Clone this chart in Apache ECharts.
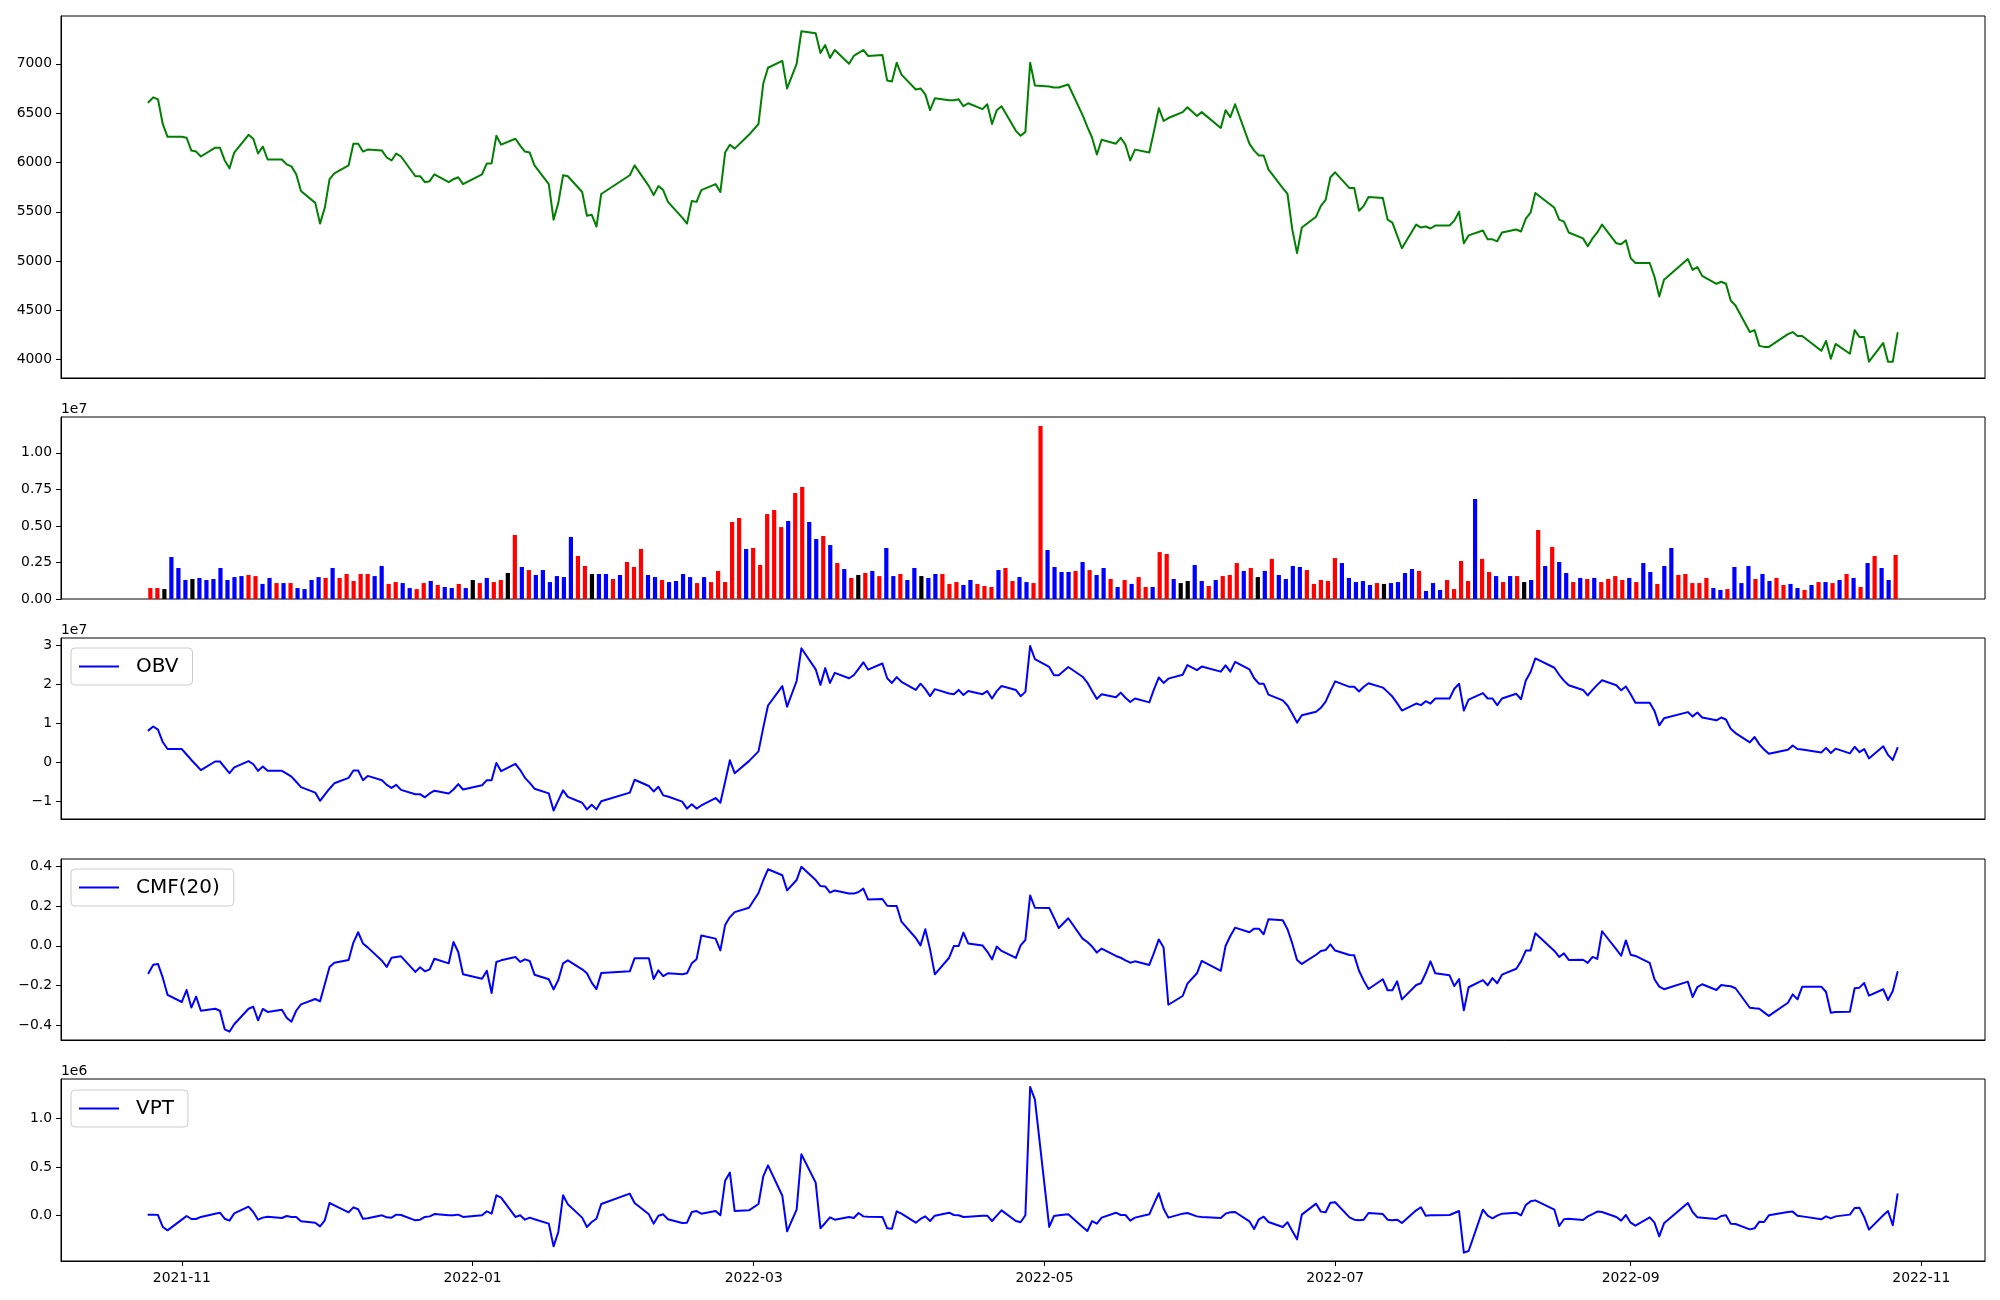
<!DOCTYPE html>
<html><head><meta charset="utf-8">
<script src="https://cdn.jsdelivr.net/npm/echarts@6/dist/echarts.min.js"></script>
<style>html,body{margin:0;padding:0;background:#fff}#c{width:2000px;height:1300px}</style>
</head><body><div id="c"></div>
<script>
const dates = [
'2021-10-25','2021-10-26','2021-10-27','2021-10-28','2021-10-29',
'2021-11-01','2021-11-02','2021-11-03','2021-11-04','2021-11-05','2021-11-08','2021-11-09','2021-11-10','2021-11-11','2021-11-12',
'2021-11-15','2021-11-16','2021-11-17','2021-11-18','2021-11-19','2021-11-22','2021-11-23','2021-11-24','2021-11-25','2021-11-26','2021-11-29','2021-11-30',
'2021-12-01','2021-12-02','2021-12-03','2021-12-06','2021-12-07','2021-12-08','2021-12-09','2021-12-10','2021-12-13','2021-12-14','2021-12-15',
'2021-12-16','2021-12-17','2021-12-20','2021-12-21','2021-12-22','2021-12-23','2021-12-24','2021-12-27','2021-12-28','2021-12-29','2021-12-30',
'2022-01-03','2022-01-04','2022-01-05','2022-01-06','2022-01-07','2022-01-10','2022-01-11','2022-01-12','2022-01-13','2022-01-14',
'2022-01-17','2022-01-18','2022-01-19','2022-01-20','2022-01-21','2022-01-24','2022-01-25','2022-01-26','2022-01-27','2022-01-28',
'2022-02-03','2022-02-04','2022-02-07','2022-02-08','2022-02-09','2022-02-10','2022-02-11','2022-02-14','2022-02-15','2022-02-16',
'2022-02-17','2022-02-18','2022-02-21','2022-02-22','2022-02-23','2022-02-24','2022-02-25','2022-02-28',
'2022-03-02','2022-03-03','2022-03-04','2022-03-07','2022-03-08','2022-03-10','2022-03-11','2022-03-14','2022-03-15','2022-03-16','2022-03-17',
'2022-03-18','2022-03-21','2022-03-22','2022-03-23','2022-03-24','2022-03-25','2022-03-28','2022-03-29','2022-03-30','2022-03-31',
'2022-04-01','2022-04-04','2022-04-05','2022-04-06','2022-04-07','2022-04-08','2022-04-11','2022-04-12','2022-04-13','2022-04-14','2022-04-15',
'2022-04-18','2022-04-19','2022-04-20','2022-04-21','2022-04-22','2022-04-25','2022-04-26','2022-04-27','2022-04-28','2022-04-29',
'2022-05-02','2022-05-03','2022-05-04','2022-05-06','2022-05-09','2022-05-10','2022-05-11','2022-05-12','2022-05-13','2022-05-16','2022-05-17',
'2022-05-18','2022-05-19','2022-05-20','2022-05-23','2022-05-24','2022-05-25','2022-05-26','2022-05-27','2022-05-30','2022-05-31',
'2022-06-02','2022-06-03','2022-06-07','2022-06-08','2022-06-09','2022-06-10','2022-06-13','2022-06-14','2022-06-15','2022-06-16',
'2022-06-17','2022-06-20','2022-06-21','2022-06-22','2022-06-23','2022-06-24','2022-06-27','2022-06-28','2022-06-29','2022-06-30',
'2022-07-01','2022-07-04','2022-07-05','2022-07-06','2022-07-07','2022-07-08','2022-07-11','2022-07-12','2022-07-13','2022-07-14','2022-07-15',
'2022-07-18','2022-07-19','2022-07-20','2022-07-21','2022-07-22','2022-07-25','2022-07-26','2022-07-27','2022-07-28','2022-07-29',
'2022-08-01','2022-08-02','2022-08-03','2022-08-04','2022-08-05','2022-08-08','2022-08-09','2022-08-10','2022-08-11','2022-08-12','2022-08-16',
'2022-08-17','2022-08-18','2022-08-19','2022-08-22','2022-08-23','2022-08-24','2022-08-25','2022-08-26','2022-08-29','2022-08-30','2022-08-31',
'2022-09-01','2022-09-02','2022-09-05','2022-09-06','2022-09-07','2022-09-08','2022-09-13','2022-09-14','2022-09-15','2022-09-16',
'2022-09-19','2022-09-20','2022-09-21','2022-09-22','2022-09-23','2022-09-26','2022-09-27','2022-09-28','2022-09-29','2022-09-30',
'2022-10-04','2022-10-05','2022-10-06','2022-10-07','2022-10-11','2022-10-12','2022-10-13','2022-10-14','2022-10-17',
'2022-10-18','2022-10-19','2022-10-20','2022-10-21','2022-10-24','2022-10-25','2022-10-26','2022-10-27'
];

const closePrice = [
6610,6660,6640,6390,6260,
6260,6250,6120,6110,6060,6150,6150,6020,5940,6100,6280,6240,6090,6160,6030,6030,5980,5960,5880,5710,5590,5380,
5540,5830,5890,5970,6190,6190,6110,6130,6120,6050,6020,6090,6060,5860,5860,5800,5810,5880,5800,5830,5850,5780,
5880,5990,5990,6270,6180,6240,6170,6110,6100,5970,5780,5420,5590,5870,5860,5700,5460,5470,5350,5680,
5870,5970,5760,5670,5760,5720,5600,5440,5380,5610,5600,5720,5780,5700,6100,6180,6140,6280,
6390,6800,6960,7030,6750,7000,7330,7310,7110,7190,7060,7140,7000,7080,7110,7140,7080,7090,6830,6820,7010,
6890,6740,6750,6690,6530,6650,6630,6630,6640,6570,6600,6540,6590,6390,6530,6570,6320,6270,6310,7010,6780,
6770,6760,6760,6790,6480,6360,6250,6080,6230,6190,6250,6180,6020,6130,6100,6320,6550,6420,6450,6510,6560,
6470,6510,6350,6530,6460,6590,6190,6120,6070,6070,5930,5740,5680,5320,5080,5340,5450,5560,5620,5850,
5900,5740,5740,5510,5560,5650,5640,5420,5390,5260,5130,5370,5340,5350,5330,5360,5360,5410,5500,5180,5260,
5310,5220,5220,5200,5290,5320,5300,5430,5490,5690,5540,5420,5400,5290,5230,5150,5230,5290,5370,5180,5170,5210,
5030,4980,4980,4840,4640,4810,5020,4910,4940,4850,4770,4790,4770,4600,4550,4280,4300,4140,4130,4130,
4260,4280,4240,4240,4090,4190,4010,4160,4060,4300,4230,4230,3980,4170,3980,3980,4270
];

// volume in millions of shares, one bar per trading day (drawn at evenly spaced positions)
const volumeM = [
0.75,0.75,0.68,2.87,2.12,1.30,1.37,1.44,1.30,1.37,
2.12,1.30,1.50,1.57,1.64,1.57,1.03,1.44,1.09,1.09,
1.09,0.75,0.68,1.30,1.50,1.44,2.12,1.44,1.71,1.23,
1.71,1.71,1.57,2.26,1.03,1.16,1.09,0.75,0.68,1.09,
1.23,0.96,0.82,0.75,1.03,0.75,1.30,1.09,1.44,1.16,
1.30,1.78,4.38,2.19,1.98,1.64,1.98,1.16,1.57,1.50,
4.24,2.94,2.26,1.71,1.71,1.71,1.37,1.64,2.53,2.19,
3.42,1.64,1.50,1.30,1.16,1.23,1.71,1.50,1.09,1.50,
1.16,1.92,1.16,5.27,5.54,3.42,3.49,2.33,5.81,6.09,
4.92,5.34,7.25,7.66,5.27,4.10,4.31,3.69,2.46,2.05,
1.44,1.64,1.78,1.92,1.57,3.49,1.57,1.71,1.30,2.12,
1.57,1.44,1.71,1.71,1.03,1.16,0.96,1.30,1.03,0.89,
0.82,1.98,2.12,1.23,1.50,1.16,1.09,11.83,3.35,2.19,
1.85,1.85,1.92,2.53,1.98,1.64,2.12,1.37,0.82,1.30,
1.03,1.50,0.82,0.82,3.21,3.08,1.37,1.09,1.23,2.33,
1.23,0.89,1.30,1.57,1.64,2.46,1.92,2.12,1.50,1.92,
2.74,1.64,1.37,2.26,2.19,1.98,1.03,1.30,1.23,2.80,
2.46,1.44,1.16,1.23,0.96,1.09,1.03,1.09,1.16,1.78,
2.05,1.92,0.55,1.09,0.62,1.30,0.68,2.60,1.23,6.84,
2.74,1.85,1.57,1.16,1.57,1.57,1.16,1.30,4.72,2.26,
3.56,2.53,1.78,1.16,1.44,1.37,1.44,1.16,1.37,1.57,
1.30,1.44,1.16,2.46,1.85,1.03,2.26,3.49,1.64,1.71,
1.09,1.09,1.44,0.75,0.62,0.68,2.19,1.09,2.26,1.37,
1.71,1.23,1.44,0.96,1.03,0.75,0.62,0.96,1.16,1.16,
1.09,1.30,1.71,1.44,0.82,2.46,2.94,2.12,1.30,3.01
];
// bar colour per day: r = up, b = down, k = unchanged
const volumeDir =
'rrkbbbkbbb'+'bbbbrrbbrb'+'rbbbbrbrrr'+'rrbbrrbbrr'+'brbbrbkrbr'+
'rkrbrbbbbb'+'brrkbbrbrr'+'rbbrbbbbrb'+'rrrrrbrrrr'+'rbrrbbrbrb'+
'rkrbrbbrbb'+'kbbrrrbbrr'+'rbrrbbrrbb'+'bbrbrbbrbr'+'brrbrrbkkb'+
'brbrrrbrkb'+'rbbbbrrrrr'+'bbbbbrkbbb'+'brbbbrrrrb'+'rrbrbrkbrb'+
'rbbrbrbrrr'+'rbrbbrbbrr'+'rrrbbrbbbr'+'bbrrbbrbrb'+'rbrbrbrbbr';

// On-Balance Volume, millions
const obvM = [
8.2,9.2,8.4,5.2,3.4,
3.4,2.0,0.6,-0.7,-2.0,0.2,0.2,-1.3,-2.8,-1.3,0.3,-0.5,-2.2,-1.1,-2.2,-2.2,-2.9,-3.7,-5.0,-6.4,-7.8,-9.9,
-8.3,-6.8,-5.4,-4.0,-2.1,-2.1,-4.6,-3.5,-4.6,-5.8,-6.6,-5.8,-7.1,-8.2,-8.2,-9.0,-8.0,-7.3,-8.0,-7.0,-5.6,-7.0,
-5.9,-4.6,-4.6,-0.2,-2.3,-0.4,-2.0,-4.0,-5.3,-6.8,-8.0,-12.4,-9.8,-7.2,-8.9,-10.4,-12.1,-10.9,-12.1,-10.0,
-7.8,-4.5,-6.1,-7.5,-6.3,-8.5,-8.8,-10.1,-11.9,-10.8,-11.9,-11.1,-9.2,-10.4,-5.0,0.5,-2.8,0.3,
2.8,8.9,14.6,19.6,14.3,20.9,29.3,23.9,19.9,24.2,20.4,23.0,21.6,22.4,24.0,25.7,23.8,25.4,21.6,20.4,21.9,
20.7,18.6,20.2,18.8,17.0,18.8,17.7,17.5,18.6,17.3,18.3,17.5,18.3,16.4,18.3,19.6,18.6,17.0,18.1,29.9,26.5,
24.5,22.4,22.4,24.5,22.0,20.5,18.3,16.3,17.5,16.7,17.9,16.6,15.5,16.4,15.4,18.8,21.8,20.4,21.5,22.5,25.0,
23.7,24.6,23.3,24.9,23.3,25.8,23.9,21.6,20.2,20.2,17.4,15.9,14.6,12.5,10.2,12.1,13.0,14.0,15.6,18.3,
20.8,19.4,19.4,18.2,19.4,20.3,19.2,18.1,16.9,15.2,13.3,15.1,14.7,15.7,15.1,16.4,16.4,18.9,20.2,13.3,16.1,
17.8,16.4,16.4,14.7,16.4,17.6,16.2,21.0,23.2,26.7,24.3,22.5,21.0,19.8,18.6,17.2,18.6,19.9,21.1,19.8,18.5,19.5,
17.5,15.3,15.3,13.2,9.5,11.3,12.9,11.8,12.8,11.5,10.8,11.5,11.0,8.6,7.5,5.1,6.5,4.6,3.3,2.2,
3.2,4.3,3.4,3.3,2.5,3.7,2.4,3.5,2.3,4.0,2.6,3.4,1.0,4.1,1.9,0.6,3.7
];

// Chaikin Money Flow (20)
const cmf20 = [
-0.138,-0.095,-0.091,-0.160,-0.246,
-0.282,-0.222,-0.310,-0.255,-0.326,-0.316,-0.326,-0.419,-0.431,-0.394,-0.316,-0.306,-0.374,-0.317,-0.332,-0.321,-0.361,-0.381,-0.326,-0.294,-0.267,-0.279,
-0.193,-0.106,-0.085,-0.071,0.016,0.068,0.012,-0.008,-0.075,-0.106,-0.060,-0.056,-0.053,-0.131,-0.108,-0.128,-0.118,-0.065,-0.088,0.019,-0.031,-0.143,
-0.165,-0.125,-0.237,-0.081,-0.073,-0.056,-0.081,-0.068,-0.076,-0.145,-0.168,-0.219,-0.172,-0.088,-0.073,-0.118,-0.138,-0.185,-0.217,-0.137,
-0.128,-0.063,-0.063,-0.167,-0.123,-0.152,-0.138,-0.143,-0.138,-0.088,-0.068,0.052,0.036,-0.023,0.104,0.144,0.169,0.191,
0.265,0.329,0.384,0.354,0.278,0.330,0.397,0.330,0.300,0.298,0.267,0.278,0.262,0.262,0.270,0.287,0.232,0.235,0.201,0.200,0.200,
0.121,0.039,0.002,0.083,-0.018,-0.143,-0.060,-0.001,-0.001,0.066,0.012,0.002,-0.029,-0.068,-0.004,-0.026,-0.061,0.002,0.029,0.253,0.191,
0.190,0.141,0.089,0.138,0.036,0.019,-0.004,-0.034,-0.014,-0.051,-0.060,-0.073,-0.085,-0.078,-0.096,-0.034,0.032,-0.009,-0.296,-0.252,-0.190,
-0.138,-0.076,-0.126,-0.001,0.049,0.091,0.068,0.086,0.086,0.058,0.133,0.128,0.083,0.012,-0.071,-0.091,-0.045,-0.026,-0.021,0.007,
-0.024,-0.046,-0.048,-0.125,-0.175,-0.217,-0.168,-0.223,-0.223,-0.178,-0.269,-0.197,-0.188,-0.138,-0.078,-0.138,-0.148,-0.202,-0.167,-0.324,-0.208,
-0.172,-0.198,-0.162,-0.188,-0.145,-0.115,-0.078,-0.024,-0.023,0.063,-0.026,-0.056,-0.038,-0.071,-0.070,-0.086,-0.056,-0.066,0.073,-0.018,-0.050,0.027,
-0.045,-0.051,-0.086,-0.168,-0.205,-0.218,-0.180,-0.257,-0.207,-0.193,-0.222,-0.197,-0.200,-0.203,-0.213,-0.311,-0.314,-0.316,-0.334,-0.352,
-0.286,-0.244,-0.269,-0.205,-0.205,-0.232,-0.336,-0.332,-0.331,-0.213,-0.210,-0.187,-0.250,-0.218,-0.272,-0.227,-0.131
];

// Volume Price Trend, millions
const vptM = [
0.010,0.010,0.006,-0.117,-0.152,
-0.042,-0.004,-0.035,-0.035,-0.014,0.020,0.030,-0.032,-0.052,0.023,0.092,0.037,-0.042,-0.021,-0.011,-0.025,-0.004,-0.014,-0.014,-0.059,-0.073,-0.111,
-0.049,0.130,0.106,0.034,0.085,0.065,-0.032,-0.028,0.003,-0.018,-0.021,0.010,0.006,-0.049,-0.042,-0.014,-0.008,0.016,0.003,0.003,0.010,-0.014,
0.003,0.044,0.020,0.209,0.185,-0.014,0.003,-0.042,-0.021,-0.038,-0.083,-0.317,-0.169,0.209,0.116,-0.021,-0.117,-0.066,-0.032,0.120,
0.226,0.130,0.013,-0.083,-0.001,0.013,-0.038,-0.076,-0.073,0.037,0.047,0.020,0.047,0.003,0.360,0.443,0.047,0.054,
0.120,0.405,0.518,0.205,-0.162,0.061,0.632,0.340,-0.131,-0.076,-0.018,-0.042,-0.014,-0.025,0.027,-0.008,-0.011,-0.014,-0.131,-0.135,0.044,
0.020,-0.073,-0.035,-0.008,-0.056,-0.001,0.030,0.006,0.003,-0.014,-0.011,-0.001,-0.001,-0.056,-0.001,0.054,-0.056,-0.069,0.003,1.326,1.195,
-0.117,-0.004,0.003,0.013,-0.117,-0.159,-0.056,-0.083,-0.021,0.030,0.006,0.006,-0.052,-0.021,0.013,0.123,0.230,0.071,-0.021,0.020,0.027,
-0.008,-0.014,-0.025,0.020,0.034,0.037,-0.059,-0.138,-0.038,-0.011,-0.066,-0.117,-0.069,-0.159,-0.245,0.010,0.123,0.041,0.034,0.133,
0.137,-0.018,-0.042,-0.049,-0.042,0.027,0.016,-0.042,-0.049,-0.042,-0.076,0.054,0.086,-0.001,0.003,0.003,0.006,0.027,0.047,-0.382,-0.365,
0.061,-0.001,-0.028,-0.001,0.020,0.030,0.003,0.109,0.147,0.157,0.061,-0.107,-0.038,-0.032,-0.045,-0.008,0.016,0.041,0.037,-0.014,-0.052,0.006,
-0.073,-0.104,-0.018,-0.073,-0.214,-0.080,0.130,0.037,-0.018,-0.021,-0.035,-0.004,0.003,-0.083,-0.087,-0.142,-0.131,-0.063,-0.066,0.003,
0.037,0.041,-0.001,-0.008,-0.038,-0.008,-0.028,-0.008,0.010,0.078,0.082,-0.014,-0.145,0.003,0.047,-0.100,0.220
];

const monthTicks = ['2021-11-01','2022-01-01','2022-03-01','2022-05-01','2022-07-01','2022-09-01','2022-11-01'];
const priceTicks = [4000,4500,5000,5500,6000,6500,7000];
const volumeTicks = [0,2.5,5,7.5,10];        // millions -> shown as x1e7
const obvTicks = [-10,0,10,20,30];           // millions -> shown as x1e7
const cmfTicks = [-0.4,-0.2,0,0.2,0.4];
const vptTicks = [0,0.5,1.0];                // millions -> shown as x1e6

const DAY = 864e5;
const ts = dates.map(d => Date.parse(d));
const monthTs = monthTicks.map(d => Date.parse(d));
const xMin = Date.parse('2021-10-25') - 18.35 * DAY;
const xMax = Date.parse('2022-10-27') + 18.35 * DAY;
const N = volumeM.length;
const pad = (N - 1) * 0.05 + 0.3;

const FONT = 'DejaVu Sans';
const FS = 13.9;
const minus = s => String(s).replace('-', '\u2212');
const fmtMonth = v => { const d = new Date(v); return d.getUTCFullYear() + '-' + String(d.getUTCMonth() + 1).padStart(2, '0'); };
const dirColor = { r: '#ff0000', b: '#0000ff', k: '#000000' };

const gridBox = [[16, 362], [417, 182], [638, 181], [859, 181], [1079, 182]];

function timeAxis(g, showTicks) {
  return {
    type: 'value', gridIndex: g, min: xMin, max: xMax,
    axisLine: { show: true, onZero: false, lineStyle: { color: '#000', width: 1 } },
    axisTick: { show: showTicks, length: 5, customValues: monthTs, lineStyle: { color: '#000', width: 1 } },
    axisLabel: { show: showTicks, customValues: monthTs, formatter: fmtMonth, fontSize: FS, color: '#000', fontFamily: FONT, margin: 10 },
    splitLine: { show: false }
  };
}
function yAx(g, min, max, ticks, fmt, name) {
  return {
    type: 'value', gridIndex: g, min: min, max: max,
    axisLine: { show: true, onZero: false, lineStyle: { color: '#000', width: 1 } },
    axisTick: { show: true, length: 5, customValues: ticks, lineStyle: { color: '#000', width: 1 } },
    axisLabel: { customValues: ticks, formatter: fmt, fontSize: FS, color: '#000', fontFamily: FONT, margin: 9 },
    splitLine: { show: false },
    name: name || '', nameLocation: 'end', nameGap: 1,
    nameTextStyle: { align: 'left', verticalAlign: 'bottom', fontSize: FS, color: '#000', fontFamily: FONT }
  };
}
function lineSeries(name, g, arr, color) {
  return {
    name: name, type: 'line', xAxisIndex: g, yAxisIndex: g,
    data: ts.map((t, i) => [t, arr[i]]),
    showSymbol: false, symbol: 'none', clip: true,
    lineStyle: { color: color, width: 2, join: 'round', cap: 'round' },
    itemStyle: { color: color }
  };
}
function legendAt(name, top) {
  return {
    data: [name], left: 71, top: top, orient: 'horizontal',
    icon: 'rect', itemWidth: 40, itemHeight: 2,
    padding: [8, 14, 8, 8],
    backgroundColor: 'rgba(255,255,255,0.8)', borderColor: '#cccccc', borderWidth: 1, borderRadius: 4,
    textStyle: { fontSize: 20, fontFamily: FONT, color: '#000', lineHeight: 21, padding: [0, 0, 0, 12] }
  };
}

const option = {
  animation: false,
  backgroundColor: '#ffffff',
  textStyle: { fontFamily: FONT },
  grid: gridBox.map(([t, h]) => ({ left: 61, width: 1924, top: t, height: h, show: true, borderColor: '#000', borderWidth: 1, backgroundColor: 'transparent' })),
  xAxis: [
    timeAxis(0, false),
    { type: 'value', gridIndex: 1, min: -pad, max: N - 1 + pad, axisLine: { show: false }, axisTick: { show: false }, axisLabel: { show: false }, splitLine: { show: false } },
    timeAxis(2, false),
    timeAxis(3, false),
    timeAxis(4, true)
  ],
  yAxis: [
    yAx(0, 3814.5, 7484.6, priceTicks, v => String(v)),
    yAx(1, 0, 12.45, volumeTicks, v => (v / 10).toFixed(2), '1e7'),
    yAx(2, -14.58, 31.95, obvTicks, v => minus(Math.round(v / 10)), '1e7'),
    yAx(3, -0.4728, 0.4356, cmfTicks, v => minus(v.toFixed(1))),
    yAx(4, -0.468, 1.408, vptTicks, v => v.toFixed(1), '1e6')
  ],
  legend: [legendAt('OBV', 648), legendAt('CMF(20)', 869), legendAt('VPT', 1090)],
  series: [
    lineSeries('Close', 0, closePrice, '#008000'),
    {
      name: 'Volume', type: 'bar', xAxisIndex: 1, yAxisIndex: 1, barWidth: 4.2,
      data: volumeM.map((v, i) => ({ value: [i, v], itemStyle: { color: dirColor[volumeDir[i]] } }))
    },
    lineSeries('OBV', 2, obvM, '#0000ff'),
    lineSeries('CMF(20)', 3, cmf20, '#0000ff'),
    lineSeries('VPT', 4, vptM, '#0000ff')
  ]
};

const chart = echarts.init(document.getElementById('c'), null, { renderer: 'canvas', width: 2000, height: 1300 });
chart.setOption(option);
</script></body></html>
